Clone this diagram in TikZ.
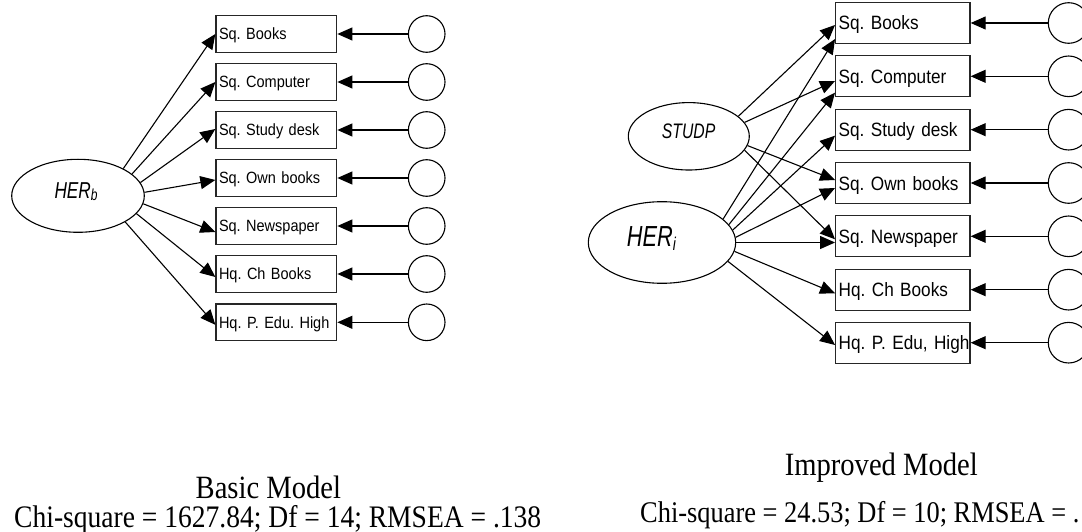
\documentclass[tikz,border=0pt]{standalone}
\usepackage{fontspec}
\usetikzlibrary{shapes.geometric,arrows.meta,calc}
\newfontfamily\obsfont[FakeStretch=0.89]{Liberation Sans}
\newfontfamily\latfont[FakeStretch=0.75]{Liberation Sans}
\newfontfamily\capfont[FakeStretch=0.88]{Liberation Serif}
\frenchspacing

\begin{document}
\begin{tikzpicture}[x=1pt,y=-1pt,
  conn/.style={line width=1.1pt,-{Triangle[length=15pt,width=13pt]}},
  boxbase/.style={draw=black!85,line width=1.3pt,inner ysep=0pt,inner xsep=3pt,
    align=left,text depth=0pt},
  obsL/.style={boxbase,minimum height=36.7pt,text width=114.7pt,text height=11.7pt,
    font=\obsfont\fontsize{16.3}{16.3}\selectfont\frenchspacing},
  obsR/.style={boxbase,minimum height=41pt,text width=128.3pt,text height=14pt,
    font=\obsfont\fontsize{19.3}{19.3}\selectfont\frenchspacing},
  errL/.style={circle,draw,line width=1.1pt,inner sep=0pt,minimum size=36.6pt},
  errR/.style={circle,draw,line width=1.1pt,inner sep=0pt,minimum size=40.6pt},
  latent/.style={ellipse,draw,line width=1.1pt,inner sep=0pt},
  latlbl/.style={inner sep=0pt,anchor=base west},
  titletext/.style={inner sep=0pt,anchor=base,font=\capfont\fontsize{32.5}{32.5}\selectfont},
  fitline/.style={inner sep=0pt,anchor=base west}]

\useasboundingbox (0,0) rectangle (1082,532);

% ---------------- basic model ----------------
\node[latent,minimum width=132.6pt,minimum height=73pt] (herb) at (78,195.8) {};
\node[latlbl,font=\latfont\itshape\fontsize{23}{23}\selectfont] (herb-t) at (54.3,198.5)
  {HER\raisebox{-2.4pt}{\fontsize{16}{16}\selectfont b}};

\foreach \i/\y/\t in {1/34/Sq. Books,2/82/Sq. Computer,3/130/Sq. Study desk,
    4/178/Sq. Own books,5/226/Sq. Newspaper,6/274/Hq. Ch Books,7/322.3/Hq. P. Edu. High}{
  \node[obsL] (lb\i) at (276.35,\y) {\mbox{\t}};
  \node[errL] (le\i) at (426.7,\y) {};
  \draw[conn] (le\i.west) -- (lb\i.east);
}

\foreach \i/\a/\o in {1/31.8/0,2/22.7/0,3/12.8/-1,4/3.5/2,5/-7.9/6,6/-17.1/3,7/-29.3/2.5}{
  \draw[conn] (herb.\a) -- ($(lb\i.west)+(0,\o)$);
}

% ---------------- improved model ----------------
\node[latent,minimum width=121pt,minimum height=67.4pt] (studp) at (688.8,136.3) {};
\node[latlbl,font=\latfont\itshape\fontsize{21}{21}\selectfont] (studp-t) at (661.7,139) {STUDP};
\node[latent,minimum width=147.4pt,minimum height=81.6pt] (heri) at (662,242.5) {};
\node[latlbl,font=\latfont\itshape\fontsize{29}{29}\selectfont] (heri-t) at (626.7,246.7)
  {HER\raisebox{-3.3pt}{\fontsize{18.5}{18.5}\selectfont i}};

\foreach \i/\y/\t in {1/23/Sq. Books,2/76.3/Sq. Computer,3/129.7/Sq. Study desk,
    4/183/Sq. Own books,5/236.3/Sq. Newspaper,6/289.7/Hq. Ch Books,7/342.7/{Hq. P. Edu, High}}{
  \node[obsR] (rb\i) at (902.85,\y) {\mbox{\t}};
  \node[errR] (re\i) at (1068.6,\y) {};
  \draw[conn] (re\i.west) -- (rb\i.east);
}

\foreach \i/\a/\o in {1/22/2,2/14.6/4.7,4/-9.3/-3,5/-14.5/3}{
  \draw[conn] (studp.\a) -- ($(rb\i.west)+(0,\o)$);
}
\foreach \i/\a/\o in {1/21.7/16,2/15.4/16.3,3/10.8/6,4/4.4/5,5/0/6.2,6/-7.1/3.6,7/-16.2/2.3}{
  \draw[conn] (heri.\a) -- ($(rb\i.west)+(0,\o)$);
}

% ---------------- captions ----------------
\node[titletext] (basic) at (268.4,498.3) {Basic Model};
\node[fitline,font=\capfont\fontsize{31.3}{31.3}\selectfont] (basicfit) at (14,527.2)
  {Chi-square = 1627.84; Df = 14; RMSEA = .138};
\node[titletext] (improved) at (881.3,475) {Improved Model};
\node[fitline,font=\capfont\fontsize{30}{30}\selectfont] (improvedfit) at (640,522.7)
  {Chi-square = 24.53; Df = 10; RMSEA = .};
\end{tikzpicture}
\end{document}
